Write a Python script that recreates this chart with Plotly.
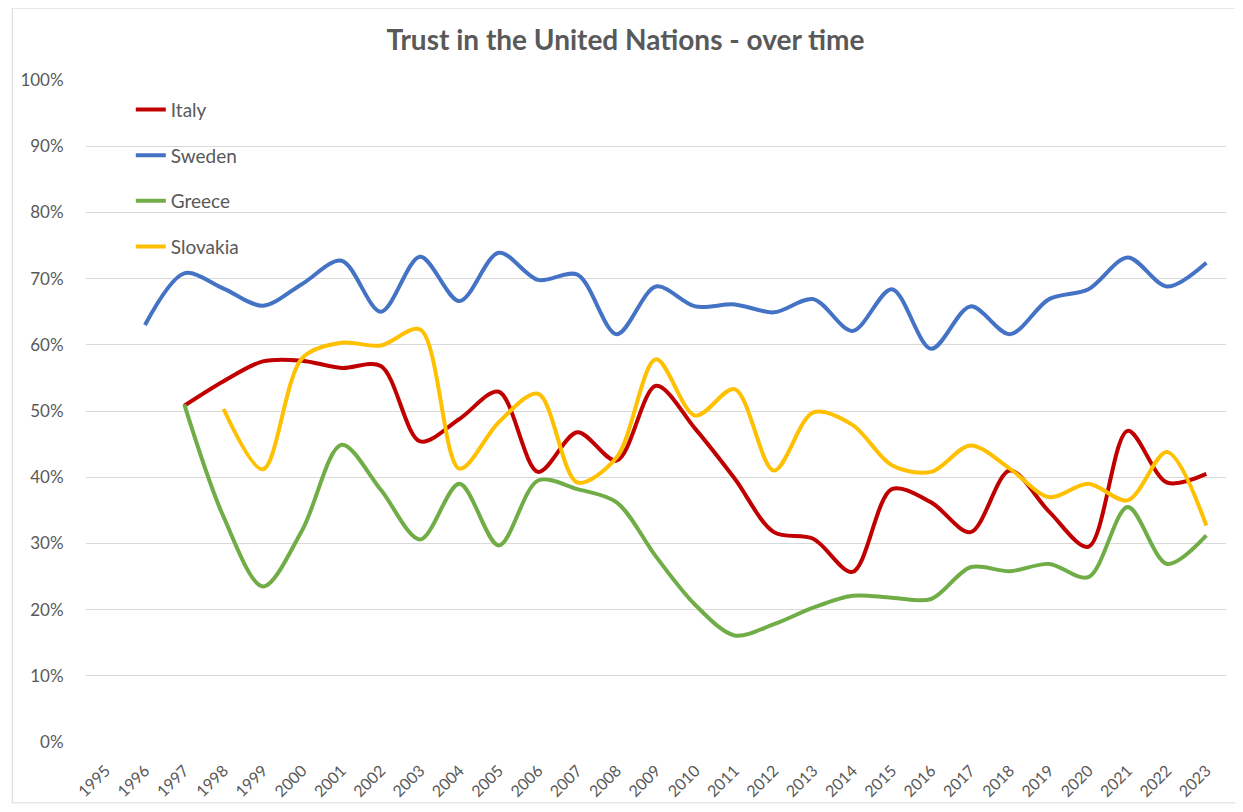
import plotly.graph_objects as go

years = [str(y) for y in range(1995, 2024)]

italy = [None, None, 50.8, 54.5, 57.5, 57.6, 56.5, 56.8, 45.4, 48.8, 52.9, 40.8, 46.8, 42.5,
         53.8, 47.3, 39.8, 31.7, 30.7, 25.7, 38.2, 36.2, 31.7, 41.0, 34.8, 29.5, 47.0, 39.2, 40.5]
sweden = [None, 63.0, 70.8, 68.5, 65.9, 69.2, 72.7, 65.0, 73.3, 66.6, 73.9, 69.8, 70.6, 61.6,
          68.8, 65.8, 66.1, 64.9, 66.9, 62.1, 68.4, 59.4, 65.8, 61.6, 66.9, 68.4, 73.2, 68.8, 72.4]
greece = [None, None, 51.0, 34.0, 23.5, 32.0, 44.9, 38.1, 30.6, 39.0, 29.7, 39.5, 38.2, 36.2,
          28.0, 20.7, 16.1, 17.8, 20.3, 22.1, 21.8, 21.6, 26.4, 25.8, 26.9, 24.9, 35.5, 26.9, 31.2]
slovakia = [None, None, None, 50.3, 41.2, 58.0, 60.3, 59.9, 62.3, 41.3, 48.3, 52.6, 39.2, 43.0,
            57.8, 49.3, 53.3, 41.0, 49.8, 47.9, 41.8, 40.8, 44.8, 41.3, 37.0, 39.0, 36.5, 43.8, 32.7]

series = [("Italy", italy, "#C00000"), ("Sweden", sweden, "#4472C4"),
          ("Greece", greece, "#70AD47"), ("Slovakia", slovakia, "#FFC000")]

fig = go.Figure()
for i, (name, vals, col) in enumerate(series):
    fig.add_trace(go.Scatter(
        x=years, y=[None if v is None else v / 100 for v in vals],
        name=name, mode="lines", legendgroup=f"g{i}",
        line=dict(color=col, width=4, shape="spline", smoothing=0.9),
        connectgaps=False,
    ))

txt = "#595959"
fig.update_layout(
    width=1235, height=804,
    margin=dict(l=74, r=17, t=72, b=69),
    paper_bgcolor="white", plot_bgcolor="white",
    font=dict(family="Lato, Liberation Sans, sans-serif", color=txt),
    title=dict(text="<b>Trust in the United Nations - over time</b>", x=0.5, xanchor="center",
               y=1 - 32 / 804, yanchor="middle", font=dict(size=28, color=txt)),
    xaxis=dict(type="category", categoryorder="array", categoryarray=years,
               range=[-0.5, len(years) - 0.5], tickangle=-45, tickfont=dict(size=16, color=txt),
               showgrid=False, showline=False, zeroline=False,
               ticks="outside", ticklen=12, tickcolor="rgba(0,0,0,0)"),
    yaxis=dict(range=[0, 1], dtick=0.1, tickformat=".0%", tickfont=dict(size=17, color=txt),
               showgrid=True, gridcolor="#d9d9d9", gridwidth=1, zeroline=False,
               showline=False, ticks="outside", ticklen=18, tickcolor="rgba(0,0,0,0)"),
    legend=dict(x=0.0393, y=0.984, xanchor="left", yanchor="top", bgcolor="rgba(0,0,0,0)",
                font=dict(size=19, color=txt), tracegroupgap=18),
    showlegend=True,
    shapes=[
        dict(type="rect", xref="paper", yref="paper", x0=0.005, x1=0.1775, y0=0.755, y1=0.97,
             fillcolor="white", line=dict(width=0), layer="between"),
        dict(type="rect", xref="paper", yref="paper", x0=-0.0647, x1=1.0087, y0=-0.092, y1=1.1086,
             fillcolor="rgba(0,0,0,0)", line=dict(color="#d9d9d9", width=1), layer="below"),
    ],
)

fig.write_html("out.html")
